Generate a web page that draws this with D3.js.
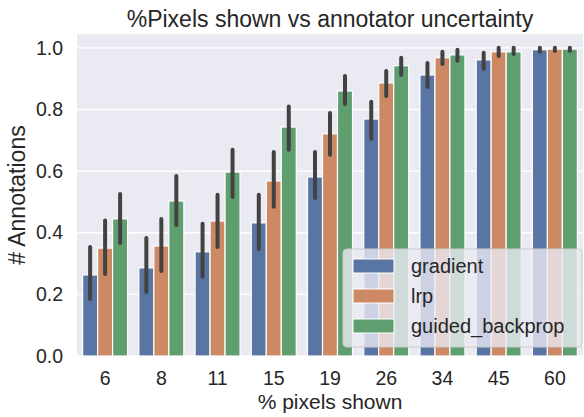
<!DOCTYPE html>
<html>
<head>
<meta charset="utf-8">
<script src="https://cdn.jsdelivr.net/npm/d3@7"></script>
<style>
  body { margin: 0; background: #fff; }
  text { font-family: "Liberation Sans", Arial, sans-serif; fill: #262626; }
</style>
</head>
<body>
<div id="chart"></div>
<script>
// data
var categories = ["6", "8", "11", "15", "19", "26", "34", "45", "60"];
var methods = ["gradient", "lrp", "guided_backprop"];
var gradientMean = [0.263, 0.286, 0.338, 0.432, 0.581, 0.769, 0.912, 0.961, 0.994];
var gradientLow  = [0.185, 0.208, 0.257, 0.347, 0.513, 0.705, 0.873, 0.932, 0.987];
var gradientHigh = [0.354, 0.383, 0.429, 0.523, 0.662, 0.825, 0.951, 0.984, 1.0];
var lrpMean = [0.35, 0.357, 0.438, 0.568, 0.721, 0.886, 0.968, 0.987, 0.996];
var lrpLow  = [0.266, 0.276, 0.354, 0.484, 0.653, 0.844, 0.948, 0.974, 0.99];
var lrpHigh = [0.44, 0.445, 0.523, 0.662, 0.789, 0.925, 0.987, 1.0, 1.0];
var guidedMean = [0.445, 0.503, 0.597, 0.743, 0.86, 0.942, 0.977, 0.987, 0.996];
var guidedLow  = [0.367, 0.425, 0.516, 0.669, 0.818, 0.912, 0.958, 0.98, 0.99];
var guidedHigh = [0.526, 0.584, 0.669, 0.81, 0.909, 0.968, 0.994, 1.0, 1.0];
var yTicks = [0, 0.2, 0.4, 0.6, 0.8, 1.0];
var colors = ["#5875a4", "#cc8963", "#5f9e6e"];

var series = [
  {name: methods[0], mean: gradientMean, lo: gradientLow, hi: gradientHigh},
  {name: methods[1], mean: lrpMean, lo: lrpLow, hi: lrpHigh},
  {name: methods[2], mean: guidedMean, lo: guidedLow, hi: guidedHigh}
];

var width = 584, height = 417,
    margin = {top: 34, right: 1, bottom: 61, left: 77},
    innerWidth = width - margin.left - margin.right,
    innerHeight = height - margin.top - margin.bottom;

var svg = d3.select("#chart").append("svg")
  .attr("width", width).attr("height", height);

var g = svg.append("g")
  .attr("transform", "translate(" + margin.left + "," + margin.top + ")");

var xScale = d3.scaleBand().domain(categories).range([0, innerWidth]).paddingInner(0.2).paddingOuter(0.1);
var xSub = d3.scaleBand().domain(methods).range([0, xScale.bandwidth()]);
var yScale = d3.scaleLinear().domain([0, 1.045]).range([innerHeight, 0]);

g.append("rect").attr("width", innerWidth).attr("height", innerHeight).attr("fill", "#eaeaf2");

// grid
g.selectAll(".grid").data(yTicks).enter().append("line")
  .attr("x1", 0).attr("x2", innerWidth)
  .attr("y1", function (d) { return yScale(d); })
  .attr("y2", function (d) { return yScale(d); })
  .attr("stroke", "#fff").attr("stroke-width", 1.3);

// bars
series.forEach(function (s, si) {
  var sg = g.append("g");
  sg.selectAll("rect").data(categories).enter().append("rect")
    .attr("x", function (c) { return xScale(c) + xSub(s.name); })
    .attr("width", xSub.bandwidth())
    .attr("y", function (c, i) { return yScale(s.mean[i]); })
    .attr("height", function (c, i) { return innerHeight - yScale(s.mean[i]); })
    .attr("fill", colors[si])
    .attr("stroke", "#fff").attr("stroke-width", 1.2);
  sg.selectAll("line").data(categories).enter().append("line")
    .attr("x1", function (c) { return xScale(c) + xSub(s.name) + xSub.bandwidth() / 2; })
    .attr("x2", function (c) { return xScale(c) + xSub(s.name) + xSub.bandwidth() / 2; })
    .attr("y1", function (c, i) { return yScale(s.lo[i]); })
    .attr("y2", function (c, i) { return yScale(s.hi[i]); })
    .attr("stroke", "#424242").attr("stroke-width", 4).attr("stroke-linecap", "round");
});

// axes
var xAxis = g.append("g").attr("transform", "translate(0," + innerHeight + ")")
  .call(d3.axisBottom(xScale).tickSize(0).tickPadding(15));
var yAxis = g.append("g")
  .call(d3.axisLeft(yScale).tickValues(yTicks).tickFormat(d3.format(".1f")).tickSize(0).tickPadding(14));
[xAxis, yAxis].forEach(function (a) {
  a.select(".domain").remove();
  a.selectAll("text").style("font-size", "19.5px").attr("fill", "#262626")
    .style("font-family", "'Liberation Sans', Arial, sans-serif");
});

svg.append("text").attr("x", margin.left + innerWidth / 2).attr("y", 27)
  .attr("text-anchor", "middle").style("font-size", "23px")
  .text("%Pixels shown vs annotator uncertainty");
svg.append("text").attr("x", margin.left + innerWidth / 2).attr("y", 409)
  .attr("text-anchor", "middle").style("font-size", "21px").text("% pixels shown");
svg.append("text").attr("transform", "translate(25," + (margin.top + innerHeight / 2) + ") rotate(-90)")
  .attr("text-anchor", "middle").style("font-size", "23px").text("# Annotations");

// legend
var legend = svg.append("g").attr("transform", "translate(343,249)");
legend.append("rect").attr("width", 239).attr("height", 98).attr("rx", 4)
  .attr("fill", "#eaeaf2").attr("fill-opacity", 0.8).attr("stroke", "#cccccc");
var items = legend.selectAll(".item").data(methods).enter().append("g")
  .attr("transform", function (d, i) { return "translate(10," + (10 + i * 30) + ")"; });
items.append("rect").attr("width", 41).attr("height", 14)
  .attr("fill", function (d, i) { return colors[i]; }).attr("stroke", "#fff").attr("stroke-width", 1);
items.append("text").attr("x", 58).attr("y", 14).style("font-size", "20px").text(function (d) { return d; });
</script>
</body>
</html>
